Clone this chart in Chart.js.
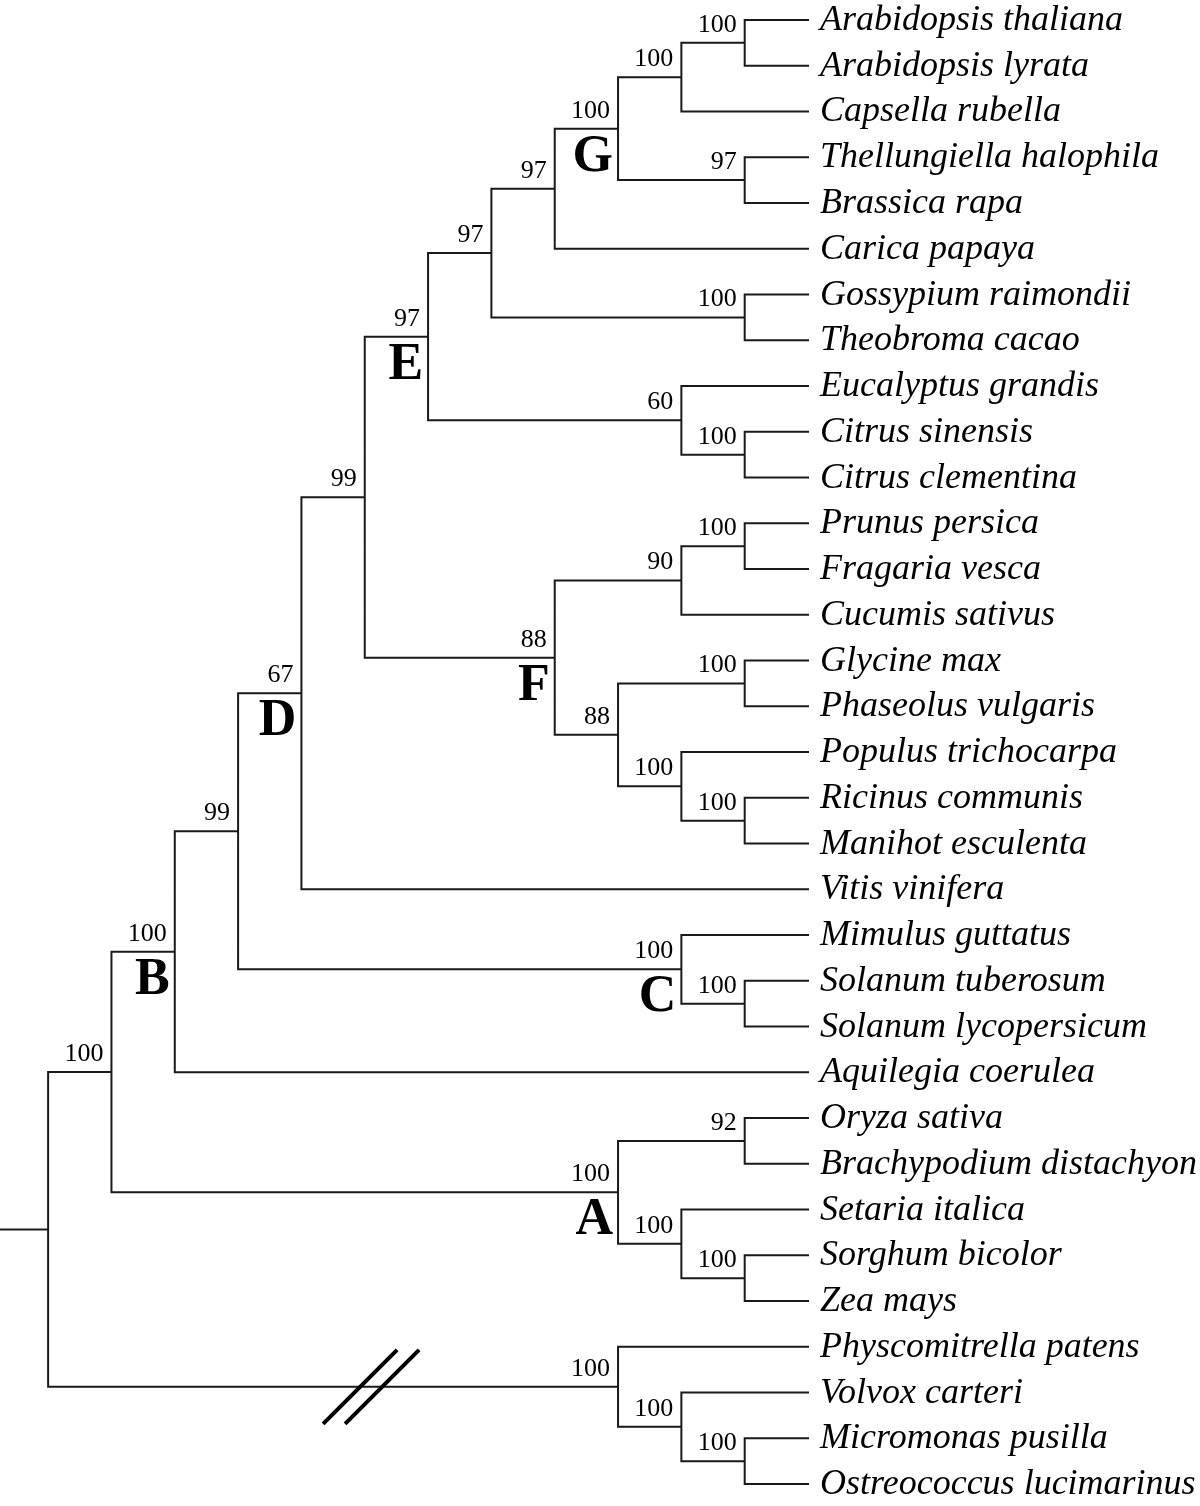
<!DOCTYPE html>
<html>
<head>
<meta charset="utf-8">
<script src="https://cdn.jsdelivr.net/npm/chart.js@4.4.1/dist/chart.umd.min.js"></script>
<style>
  html, body { margin: 0; padding: 0; background: #fff; }
  #wrap { width: 1200px; height: 1506px; }
</style>
</head>
<body>
<div id="wrap"><canvas id="tree" width="1200" height="1506"></canvas></div>
<script>
// tips, top to bottom
const species = [
  'Arabidopsis thaliana', 'Arabidopsis lyrata', 'Capsella rubella',
  'Thellungiella halophila', 'Brassica rapa', 'Carica papaya',
  'Gossypium raimondii', 'Theobroma cacao', 'Eucalyptus grandis',
  'Citrus sinensis', 'Citrus clementina', 'Prunus persica',
  'Fragaria vesca', 'Cucumis sativus', 'Glycine max',
  'Phaseolus vulgaris', 'Populus trichocarpa', 'Ricinus communis',
  'Manihot esculenta', 'Vitis vinifera', 'Mimulus guttatus',
  'Solanum tuberosum', 'Solanum lycopersicum', 'Aquilegia coerulea',
  'Oryza sativa', 'Brachypodium distachyon', 'Setaria italica',
  'Sorghum bicolor', 'Zea mays', 'Physcomitrella patens',
  'Volvox carteri', 'Micromonas pusilla', 'Ostreococcus lucimarinus'
];

// internal nodes; children are species names or other node ids
const cladeIds = [
  'arab', 'caps', 'thel', 'G', 'cari', 'malv', 'n97', 'citr', 'n60', 'E',
  'ros', 'n90', 'fab', 'eup', 'pop', 'n88', 'F', 'n99a', 'D', 'sol',
  'C', 'n99b', 'B', 'bop', 'sz', 'pac', 'A', 'angio', 'mam', 'chl',
  'alg', 'root'
];
const cladeChildren = [
  ['Arabidopsis thaliana', 'Arabidopsis lyrata'],
  ['arab', 'Capsella rubella'],
  ['Thellungiella halophila', 'Brassica rapa'],
  ['caps', 'thel'],
  ['G', 'Carica papaya'],
  ['Gossypium raimondii', 'Theobroma cacao'],
  ['cari', 'malv'],
  ['Citrus sinensis', 'Citrus clementina'],
  ['Eucalyptus grandis', 'citr'],
  ['n97', 'n60'],
  ['Prunus persica', 'Fragaria vesca'],
  ['ros', 'Cucumis sativus'],
  ['Glycine max', 'Phaseolus vulgaris'],
  ['Ricinus communis', 'Manihot esculenta'],
  ['Populus trichocarpa', 'eup'],
  ['fab', 'pop'],
  ['n90', 'n88'],
  ['E', 'F'],
  ['n99a', 'Vitis vinifera'],
  ['Solanum tuberosum', 'Solanum lycopersicum'],
  ['Mimulus guttatus', 'sol'],
  ['D', 'C'],
  ['n99b', 'Aquilegia coerulea'],
  ['Oryza sativa', 'Brachypodium distachyon'],
  ['Sorghum bicolor', 'Zea mays'],
  ['Setaria italica', 'sz'],
  ['bop', 'pac'],
  ['B', 'A'],
  ['Micromonas pusilla', 'Ostreococcus lucimarinus'],
  ['Volvox carteri', 'mam'],
  ['Physcomitrella patens', 'chl'],
  ['angio', 'alg']
];
const bootstrap = [
  100, 100, 97, 100, 97, 100, 97, 100, 60, 97,
  100, 90, 100, 100, 100, 88, 88, 99, 67, 100,
  100, 99, 100, 92, 100, 100, 100, 100, 100, 100,
  100, null
];
const cladeLetters = { G: 'G', E: 'E', F: 'F', D: 'D', C: 'C', B: 'B', A: 'A' };

// branch with the break marks
const brokenBranch = 'alg';
const breakAt = 5.1;
const rootStub = 0.76;

// ---- layout (cladogram: tips aligned, node depth from height) ----
const kids = {};
cladeIds.forEach((id, i) => { kids[id] = cladeChildren[i]; });

function height(id) {
  if (!kids[id]) return 0;
  return 1 + Math.max(...kids[id].map(height));
}
const treeHeight = height('root');

const pos = {};
function place(id) {
  if (!kids[id]) {
    pos[id] = { x: treeHeight, y: species.indexOf(id) };
    return pos[id];
  }
  const c = kids[id].map(place);
  pos[id] = { x: treeHeight - height(id), y: (c[0].y + c[c.length - 1].y) / 2 };
  return pos[id];
}
place('root');

// one polyline per node: child1 -> node -> child2, gaps between
const segments = [];
cladeIds.forEach(id => {
  const p = pos[id];
  const [a, b] = kids[id].map(k => pos[k]);
  segments.push({ x: a.x, y: a.y }, { x: p.x, y: a.y }, { x: p.x, y: b.y }, { x: b.x, y: b.y }, { x: null, y: null });
});
segments.push({ x: -rootStub, y: pos.root.y }, { x: 0, y: pos.root.y });

const labelPlugin = {
  id: 'treeLabels',
  afterDatasetsDraw(chart) {
    const { ctx, scales: { x, y } } = chart;
    ctx.save();
    ctx.fillStyle = '#000';
    ctx.textBaseline = 'alphabetic';

    ctx.font = 'italic 36px "Liberation Serif"';
    ctx.textAlign = 'left';
    species.forEach((s, i) => {
      ctx.fillText(s, x.getPixelForValue(treeHeight) + 12, y.getPixelForValue(i) + 10);
    });

    ctx.textAlign = 'right';
    cladeIds.forEach((id, i) => {
      const px = x.getPixelForValue(pos[id].x);
      const py = y.getPixelForValue(pos[id].y);
      if (bootstrap[i] != null) {
        ctx.font = '26px "Liberation Serif"';
        ctx.fillText(String(bootstrap[i]), px - 8, py - 11);
      }
      if (cladeLetters[id]) {
        ctx.font = 'bold 52px "Liberation Serif"';
        ctx.fillText(cladeLetters[id], px - 5, py + 42);
      }
    });

    // break marks on the long algae branch
    const bx = x.getPixelForValue(breakAt);
    const by = y.getPixelForValue(pos[brokenBranch].y);
    ctx.strokeStyle = '#000';
    ctx.lineWidth = 4;
    [-11, 11].forEach(off => {
      ctx.beginPath();
      ctx.moveTo(bx + off - 37, by + 37);
      ctx.lineTo(bx + off + 37, by - 37);
      ctx.stroke();
    });
    ctx.restore();
  }
};

new Chart(document.getElementById('tree'), {
  type: 'scatter',
  data: {
    datasets: [{
      data: segments,
      showLine: true,
      spanGaps: false,
      borderColor: '#1a1a1a',
      borderWidth: 2,
      borderJoinStyle: 'miter',
      borderCapStyle: 'square',
      pointRadius: 0,
      tension: 0
    }]
  },
  options: {
    responsive: false,
    devicePixelRatio: 1,
    animation: false,
    layout: { padding: 0 },
    plugins: { legend: { display: false }, tooltip: { enabled: false } },
    scales: {
      x: { type: 'linear', display: false, min: -rootStub, max: 18.19 },
      y: { type: 'linear', display: false, reverse: true, min: -0.437, max: 32.48 }
    }
  },
  plugins: [labelPlugin]
});
</script>
</body>
</html>
